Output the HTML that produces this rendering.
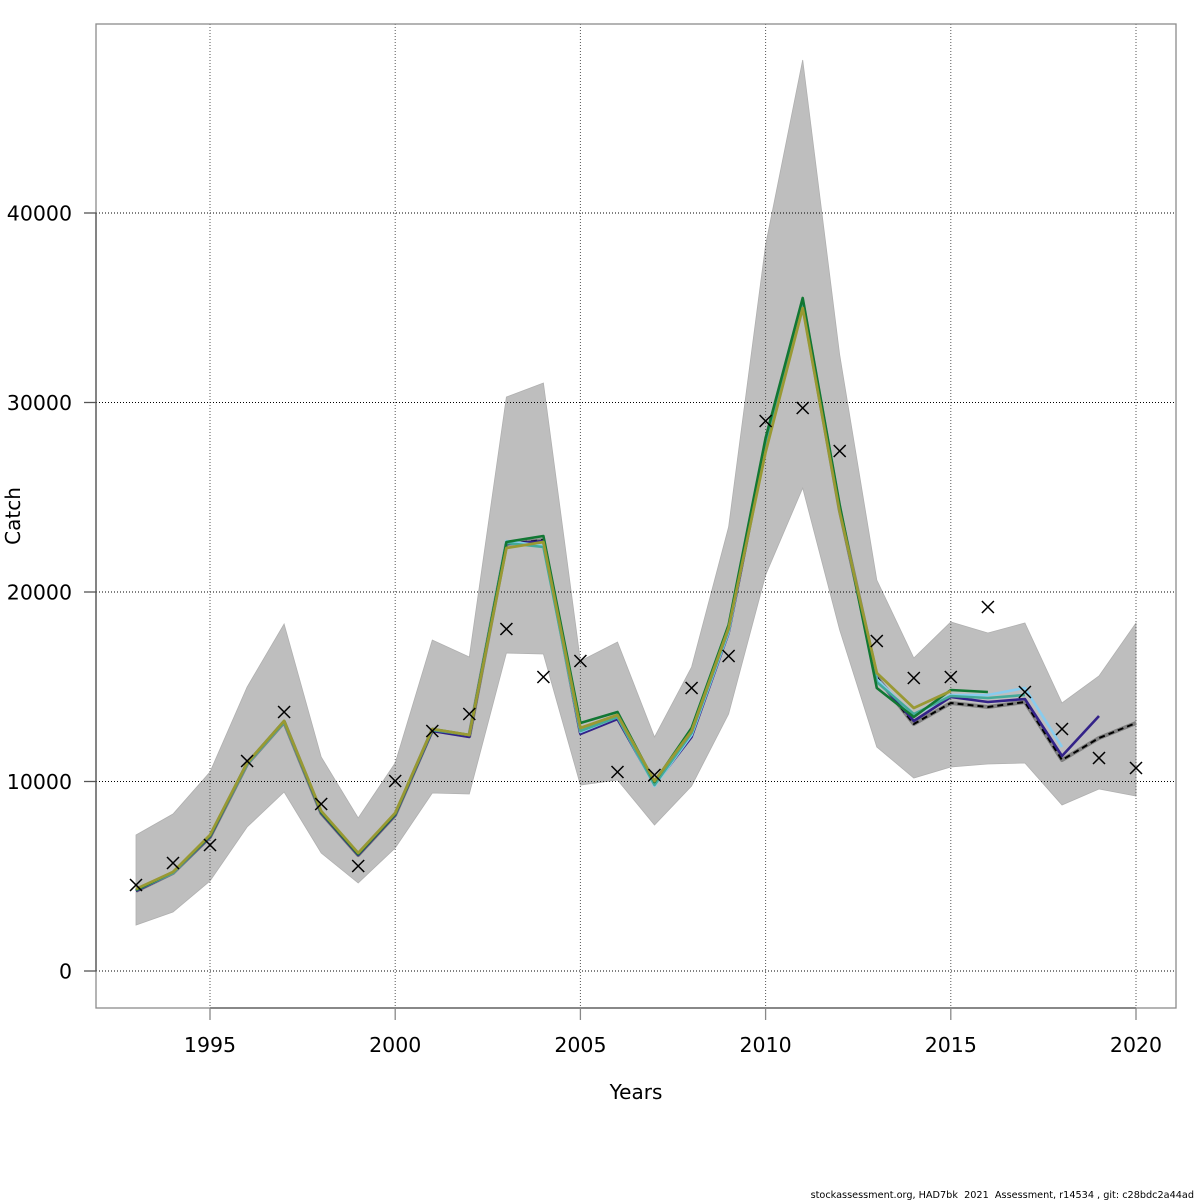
<!DOCTYPE html>
<html>
<head>
<meta charset="utf-8">
<style>
html,body{margin:0;padding:0;background:#fff;}
svg{display:block;}
text{font-family:"DejaVu Sans","Liberation Sans",sans-serif;}
</style>
</head>
<body>
<svg width="1200" height="1200" viewBox="0 0 1200 1200" xmlns="http://www.w3.org/2000/svg">
<rect width="1200" height="1200" fill="#fff"/>

<!-- confidence band -->
<polygon fill="#bebebe" stroke="#b0b0b0" stroke-width="0.8" points="
136.0,835 173.0,814 210.0,772 247.1,687 284.1,624 321.2,757 358.2,818 395.2,763 432.3,640 469.3,657 506.4,397 543.4,383 580.4,661 617.5,642 654.5,737 691.6,667 728.6,527 765.6,245 802.7,60 839.7,355 876.8,580 913.8,658 950.8,622 987.9,633 1024.9,623 1062.0,703 1099.0,676 1136.0,623
1136.0,796 1099.0,789 1062.0,805 1024.9,763 987.9,764 950.8,767 913.8,778 876.8,747 839.7,630 802.7,488 765.6,575 728.6,714 691.6,786 654.5,825 617.5,780 580.4,785 543.4,654 506.4,653 469.3,794 432.3,793 395.2,848 358.2,883 321.2,853 284.1,792 247.1,827 210.0,881 173.0,912 136.0,925"/>

<!-- grid -->
<g stroke="#000" stroke-width="1" stroke-dasharray="1,2" fill="none">
<line x1="96" y1="971" x2="1176" y2="971"/>
<line x1="96" y1="781.5" x2="1176" y2="781.5"/>
<line x1="96" y1="592" x2="1176" y2="592"/>
<line x1="96" y1="402.5" x2="1176" y2="402.5"/>
<line x1="96" y1="213" x2="1176" y2="213"/>
</g>
<g stroke="#555" stroke-width="1" stroke-dasharray="1,2" fill="none">
<line x1="210" y1="24" x2="210" y2="1008"/>
<line x1="395.2" y1="24" x2="395.2" y2="1008"/>
<line x1="580.4" y1="24" x2="580.4" y2="1008"/>
<line x1="765.6" y1="24" x2="765.6" y2="1008"/>
<line x1="950.8" y1="24" x2="950.8" y2="1008"/>
<line x1="1136" y1="24" x2="1136" y2="1008"/>
</g>

<!-- base line (gray + black dashes) -->
<polyline fill="none" stroke="#808080" stroke-width="4" stroke-linejoin="round" points="136.0,891 173.0,873 210.0,837 247.1,764 284.1,722 321.2,813 358.2,855 395.2,815 432.3,730 469.3,736 506.4,544 543.4,540 580.4,732 617.5,718 654.5,783 691.6,733 728.6,630 765.6,445 802.7,303 839.7,510 876.8,677 913.8,724 950.8,703 987.9,707 1024.9,702 1062.0,760 1099.0,738 1136.0,723"/>
<polyline fill="none" stroke="#000" stroke-width="2" stroke-dasharray="6,4" stroke-linejoin="round" points="136.0,891 173.0,873 210.0,837 247.1,764 284.1,722 321.2,813 358.2,855 395.2,815 432.3,730 469.3,736 506.4,544 543.4,540 580.4,732 617.5,718 654.5,783 691.6,733 728.6,630 765.6,445 802.7,303 839.7,510 876.8,677 913.8,724 950.8,703 987.9,707 1024.9,702 1062.0,760 1099.0,738 1136.0,723"/>

<!-- purple -->
<polyline fill="none" stroke="#332288" stroke-width="2.6" stroke-linejoin="round" points="136.0,891 173.0,873 210.0,837 247.1,764 284.1,722 321.2,813 358.2,855 395.2,815 432.3,731 469.3,737 506.4,544 543.4,541 580.4,734 617.5,719 654.5,785 691.6,737 728.6,633 765.6,447 802.7,304 839.7,511 876.8,679 913.8,721 950.8,697 987.9,702 1024.9,699 1062.0,756 1099.0,716"/>
<!-- light blue -->
<polyline fill="none" stroke="#88ccee" stroke-width="2.6" stroke-linejoin="round" points="136.0,890 173.0,873 210.0,836 247.1,764 284.1,722 321.2,812 358.2,853 395.2,814 432.3,729 469.3,735 506.4,541 543.4,546 580.4,732 617.5,717 654.5,786 691.6,735 728.6,632 765.6,444 802.7,300 839.7,510 876.8,679 913.8,716 950.8,695 987.9,695 1024.9,688 1062.0,747"/>
<!-- teal -->
<polyline fill="none" stroke="#44aa99" stroke-width="2.6" stroke-linejoin="round" points="136.0,890 173.0,873 210.0,836 247.1,764 284.1,722 321.2,812 358.2,854 395.2,814 432.3,730 469.3,735 506.4,543 543.4,547 580.4,731 617.5,717 654.5,785 691.6,733 728.6,630 765.6,442 802.7,300 839.7,508 876.8,682 913.8,714 950.8,696 987.9,698 1024.9,695"/>
<!-- green -->
<polyline fill="none" stroke="#117733" stroke-width="2.6" stroke-linejoin="round" points="136.0,890 173.0,872 210.0,836 247.1,763 284.1,721 321.2,812 358.2,854 395.2,814 432.3,729 469.3,735 506.4,542 543.4,536 580.4,723 617.5,712 654.5,782 691.6,728 728.6,625 765.6,438 802.7,298 839.7,505 876.8,688 913.8,717 950.8,690 987.9,692"/>
<!-- olive -->
<polyline fill="none" stroke="#999933" stroke-width="2.8" stroke-linejoin="round" points="136.0,889 173.0,872 210.0,835 247.1,763 284.1,721 321.2,811 358.2,853 395.2,813 432.3,729 469.3,735 506.4,548 543.4,542 580.4,728 617.5,715 654.5,781 691.6,731 728.6,628 765.6,452 802.7,308 839.7,512 876.8,673 913.8,708 950.8,691"/>

<!-- observations -->
<g stroke="#000" stroke-width="1.5" fill="none">
<path d="M130,879 l12,12 m0,-12 l-12,12"/>
<path d="M167,857 l12,12 m0,-12 l-12,12"/>
<path d="M204,839 l12,12 m0,-12 l-12,12"/>
<path d="M241.1,755 l12,12 m0,-12 l-12,12"/>
<path d="M278.1,706 l12,12 m0,-12 l-12,12"/>
<path d="M315.2,798 l12,12 m0,-12 l-12,12"/>
<path d="M352.2,860 l12,12 m0,-12 l-12,12"/>
<path d="M389.2,775 l12,12 m0,-12 l-12,12"/>
<path d="M426.3,725 l12,12 m0,-12 l-12,12"/>
<path d="M463.3,708 l12,12 m0,-12 l-12,12"/>
<path d="M500.4,623 l12,12 m0,-12 l-12,12"/>
<path d="M537.4,671 l12,12 m0,-12 l-12,12"/>
<path d="M574.4,655 l12,12 m0,-12 l-12,12"/>
<path d="M611.5,766 l12,12 m0,-12 l-12,12"/>
<path d="M648.5,769 l12,12 m0,-12 l-12,12"/>
<path d="M685.6,682 l12,12 m0,-12 l-12,12"/>
<path d="M722.6,650 l12,12 m0,-12 l-12,12"/>
<path d="M759.6,415 l12,12 m0,-12 l-12,12"/>
<path d="M796.7,402 l12,12 m0,-12 l-12,12"/>
<path d="M833.7,445 l12,12 m0,-12 l-12,12"/>
<path d="M870.8,635 l12,12 m0,-12 l-12,12"/>
<path d="M907.8,672 l12,12 m0,-12 l-12,12"/>
<path d="M944.8,671 l12,12 m0,-12 l-12,12"/>
<path d="M981.9,601 l12,12 m0,-12 l-12,12"/>
<path d="M1018.9,686 l12,12 m0,-12 l-12,12"/>
<path d="M1056,723 l12,12 m0,-12 l-12,12"/>
<path d="M1093,752 l12,12 m0,-12 l-12,12"/>
<path d="M1130,762 l12,12 m0,-12 l-12,12"/>
</g>

<!-- box -->
<rect x="96" y="24" width="1080" height="984" fill="none" stroke="#8c8c8c" stroke-width="1.3"/>
<!-- axes -->
<g stroke="#555" stroke-width="1.3" fill="none">
<line x1="96" y1="971" x2="96" y2="213"/>
<line x1="84" y1="971" x2="96" y2="971"/>
<line x1="84" y1="781.5" x2="96" y2="781.5"/>
<line x1="84" y1="592" x2="96" y2="592"/>
<line x1="84" y1="402.5" x2="96" y2="402.5"/>
<line x1="84" y1="213" x2="96" y2="213"/>
<line x1="210" y1="1008" x2="1136" y2="1008"/>
</g>
<g stroke="#888" stroke-width="1.3">
<line x1="210" y1="1008" x2="210" y2="1020"/>
<line x1="395.2" y1="1008" x2="395.2" y2="1020"/>
<line x1="580.4" y1="1008" x2="580.4" y2="1020"/>
<line x1="765.6" y1="1008" x2="765.6" y2="1020"/>
<line x1="950.8" y1="1008" x2="950.8" y2="1020"/>
<line x1="1136" y1="1008" x2="1136" y2="1020"/>
</g>

<!-- y tick labels -->
<g font-size="20.5" fill="#000" text-anchor="end">
<text x="72" y="978.5">0</text>
<text x="72" y="789">10000</text>
<text x="72" y="599.5">20000</text>
<text x="72" y="410">30000</text>
<text x="72" y="220.5">40000</text>
</g>
<!-- x tick labels -->
<g font-size="20.5" fill="#000" text-anchor="middle">
<text x="210" y="1052">1995</text>
<text x="395.2" y="1052">2000</text>
<text x="580.4" y="1052">2005</text>
<text x="765.6" y="1052">2010</text>
<text x="950.8" y="1052">2015</text>
<text x="1136" y="1052">2020</text>
</g>
<text x="636" y="1099" font-size="20" text-anchor="middle" fill="#000">Years</text>
<text transform="translate(20,516) rotate(-90)" font-size="20" text-anchor="middle" fill="#000">Catch</text>

<text x="1194" y="1198" font-size="9.7" text-anchor="end" fill="#000" style="white-space:pre" xml:space="preserve">stockassessment.org, HAD7bk  2021  Assessment, r14534 , git: c28bdc2a44ad</text>
</svg>
</body>
</html>
